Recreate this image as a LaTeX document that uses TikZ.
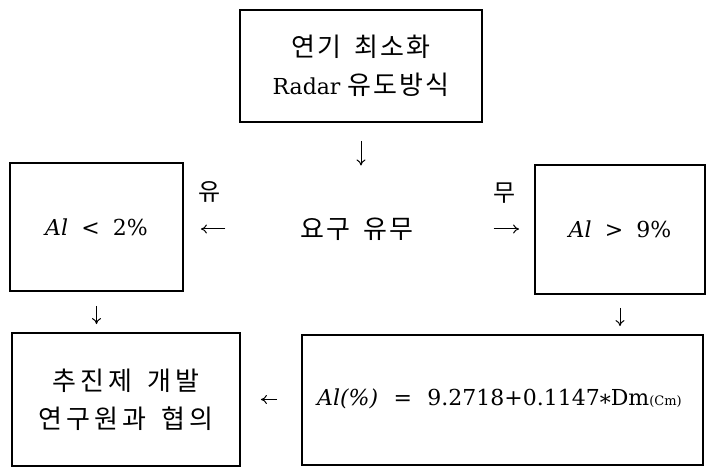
\documentclass[tikz,border=0pt]{standalone}
\usepackage{fontspec}
\setmainfont{DejaVu Serif}
\newfontfamily\kr[LetterSpace=8]{Noto Sans CJK KR}
\newfontfamily\krw[LetterSpace=16]{Noto Sans CJK KR}
\usetikzlibrary{arrows.meta}
\newcommand{\ksp}{\hspace{0.5em}}
\tikzset{
  box/.style={draw, line width=1.8pt, rectangle, inner sep=0pt, align=center,
              font=\fontsize{22}{40}\selectfont},
  lbl/.style={inner sep=0pt, font=\fontsize{24}{26}\selectfont\kr},
  arr/.style={line width=1pt, -{To[length=6pt,width=9pt]}}
}
\begin{document}
\begin{tikzpicture}[x=1pt,y=-1pt]
\useasboundingbox (0,0) rectangle (707,473);
\node[box, minimum width=242pt, minimum height=112pt] (top) at (361,66)
  {{\fontsize{26}{40}\selectfont\kr 연기\ksp 최소화}\\[-2pt] Radar {\fontsize{26}{40}\selectfont\kr 유도방식}};
\node[box, minimum width=173pt, minimum height=128pt] (left) at (96.5,227)
  {\textit{Al}\hspace{0.6em}<\hspace{0.6em}2\%};
\node[box, minimum width=170pt, minimum height=129pt] (right) at (620,229.5)
  {\textit{Al}\hspace{0.6em}>\hspace{0.6em}9\%};
\node[box, minimum width=228pt, minimum height=133pt, font=\fontsize{26}{40}\selectfont\krw] (bl) at (126,399.5)
  {추진제\hspace{0.6em}개발\\[-2pt]연구원과\hspace{0.6em}협의};
\node[box, minimum width=401pt, minimum height=130pt] (br) at (502.5,400)
  {\hspace*{-6pt}\textit{Al(\%)}\hspace{0.7em}=\hspace{0.7em}9.2718+0.1147\raisebox{-0.22em}{*}Dm{\fontsize{13}{13}\selectfont(Cm)}};
\node[lbl, font=\fontsize{26}{26}\selectfont\kr] (q) at (357,229) {요구\ksp 유무};
\node[lbl] (yu) at (210,192) {유};
\node[lbl] (mu) at (505,193) {무};
\draw[arr, shorten <=18pt, shorten >=52pt] (top.south) -- (top.south |- q.north);
\draw[arr, shorten <=75pt, shorten >=17pt] (q.west) -- (left.east |- q.west);
\draw[arr, shorten <=80pt, shorten >=15pt] (q.east) -- (right.west |- q.east);
\draw[arr, shorten <=14pt, shorten >=8pt] (left.south) -- (left.south |- bl.north);
\draw[arr, shorten <=13pt, shorten >=8pt] (right.south) -- (right.south |- br.north);
\draw[arr, shorten <=24pt, shorten >=20pt] (br.west |- bl.east) -- (bl.east);
\end{tikzpicture}
\end{document}
